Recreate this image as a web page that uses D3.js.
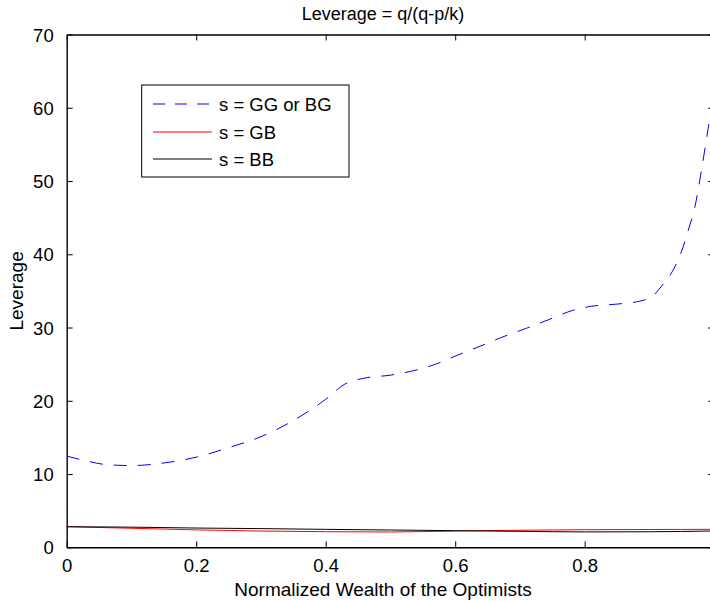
<!DOCTYPE html>
<html>
<head>
<meta charset="utf-8">
<script src="https://cdn.jsdelivr.net/npm/d3@7/dist/d3.min.js"></script>
<style>
  html, body { margin: 0; padding: 0; background: #fff; overflow: hidden; }
  svg { display: block; font-family: "Liberation Sans", Arial, Helvetica, sans-serif; }
</style>
</head>
<body>
<svg id="chart" width="710" height="601"></svg>
<script>
// Wealth share grid and leverage for each state
const wealthHigh = [0, 0.03, 0.06, 0.1, 0.14, 0.2, 0.25, 0.3, 0.35, 0.4, 0.43, 0.46, 0.5, 0.535, 0.57, 0.6, 0.64, 0.67, 0.71, 0.745, 0.78, 0.81, 0.85, 0.885, 0.905, 0.92, 0.935, 0.95, 0.96, 0.97, 0.98, 0.99, 0.995];
const leverageGG = [12.45, 11.8, 11.3, 11.15, 11.4, 12.3, 13.6, 15.1, 17.3, 20.2, 22.3, 23.1, 23.5, 24.1, 25.0, 26.1, 27.5, 28.6, 29.9, 31.1, 32.3, 32.9, 33.2, 33.6, 34.3, 35.8, 37.6, 40.5, 43.3, 46.4, 51.3, 56.8, 59.5];

const wealthLow = [0, 0.1, 0.2, 0.3, 0.4, 0.5, 0.6, 0.7, 0.8, 0.9, 0.995];
const leverageGB = [2.81, 2.6, 2.38, 2.22, 2.13, 2.09, 2.22, 2.33, 2.4, 2.43, 2.45];
const leverageBB = [2.81, 2.75, 2.63, 2.55, 2.45, 2.36, 2.27, 2.18, 2.1, 2.12, 2.22];

const xTicks = [0, 0.2, 0.4, 0.6, 0.8];
const yTicks = [0, 10, 20, 30, 40, 50, 60, 70];

const legendLabels = ["s = GG or BG", "s = GB", "s = BB"];
const seriesColors = ["#0000ff", "#ff0000", "#000000"];

const svg = d3.select("#chart");
const plotLeft = 66.7, plotRight = 714.2, plotTop = 34.5, plotBottom = 547.3;
const tickFont = 18.5, labelFont = 19, titleFont = 18;

const x = d3.scaleLinear().domain([0, 1]).range([plotLeft, plotRight]);
const y = d3.scaleLinear().domain([0, 70]).range([plotBottom, plotTop]);

// Curves
const line = d3.line().x(d => x(d[0])).y(d => y(d[1])).curve(d3.curveMonotoneX);

const series = [
  { pts: d3.zip(wealthHigh, leverageGG), color: seriesColors[0], dash: "13,11" },
  { pts: d3.zip(wealthLow, leverageGB), color: seriesColors[1], dash: null },
  { pts: d3.zip(wealthLow, leverageBB), color: seriesColors[2], dash: null }
];

series.forEach(s => {
  svg.append("path")
    .datum(s.pts)
    .attr("d", line)
    .attr("fill", "none")
    .attr("stroke", s.color)
    .attr("stroke-width", 1)
    .attr("stroke-dasharray", s.dash);
});

// Axes (box with inward ticks on all four sides)
const tick = 6;
const xAxisB = d3.axisBottom(x).tickValues(xTicks).tickSizeInner(-tick).tickSizeOuter(0).tickPadding(12)
  .tickFormat(d => d === 0 ? "0" : d3.format(".1f")(d));
const xAxisT = d3.axisTop(x).tickValues(xTicks).tickSizeInner(-tick).tickSizeOuter(0).tickFormat("");
const yAxisL = d3.axisLeft(y).tickValues(yTicks).tickSizeInner(-tick).tickSizeOuter(0).tickPadding(13);
const yAxisR = d3.axisRight(y).tickValues(yTicks).tickSizeInner(-tick).tickSizeOuter(0).tickFormat("");

function style(g) {
  g.select(".domain").attr("stroke", "#000").attr("stroke-width", 1.4);
  g.selectAll(".tick line").attr("stroke", "#000").attr("stroke-width", 1);
  g.selectAll(".tick text").attr("fill", "#000").attr("font-size", tickFont)
    .attr("font-family", "\"Liberation Sans\", Arial, Helvetica, sans-serif");
}

svg.append("g").attr("transform", `translate(0,${plotBottom})`).call(xAxisB).call(style);
svg.append("g").attr("transform", `translate(0,${plotTop})`).call(xAxisT).call(style);
svg.append("g").attr("transform", `translate(${plotLeft},0)`).call(yAxisL).call(style)
  .selectAll(".tick text").attr("dy", "0.36em");
svg.append("g").attr("transform", `translate(${plotRight},0)`).call(yAxisR).call(style);

// Titles
svg.append("text")
  .attr("x", 383).attr("y", 20)
  .attr("text-anchor", "middle").attr("font-size", titleFont)
  .text("Leverage = q/(q-p/k)");

svg.append("text")
  .attr("x", 383).attr("y", 596)
  .attr("text-anchor", "middle").attr("font-size", labelFont)
  .text("Normalized Wealth of the Optimists");

svg.append("text")
  .attr("transform", `translate(23,${(plotTop + plotBottom) / 2}) rotate(-90)`)
  .attr("text-anchor", "middle").attr("font-size", labelFont)
  .text("Leverage");

// Legend
const legend = svg.append("g");
legend.append("rect")
  .attr("x", 141.7).attr("y", 85).attr("width", 207.3).attr("height", 92)
  .attr("fill", "#fff").attr("stroke", "#000").attr("stroke-width", 1);

const rowY = [104, 132, 159];
legendLabels.forEach((lab, i) => {
  legend.append("line")
    .attr("x1", 153).attr("x2", 212).attr("y1", rowY[i]).attr("y2", rowY[i])
    .attr("stroke", seriesColors[i]).attr("stroke-width", 1)
    .attr("stroke-dasharray", i === 0 ? "12,10" : null);
  legend.append("text")
    .attr("x", 219).attr("y", rowY[i] + 6.5)
    .attr("font-size", tickFont)
    .text(lab);
});
</script>
</body>
</html>
